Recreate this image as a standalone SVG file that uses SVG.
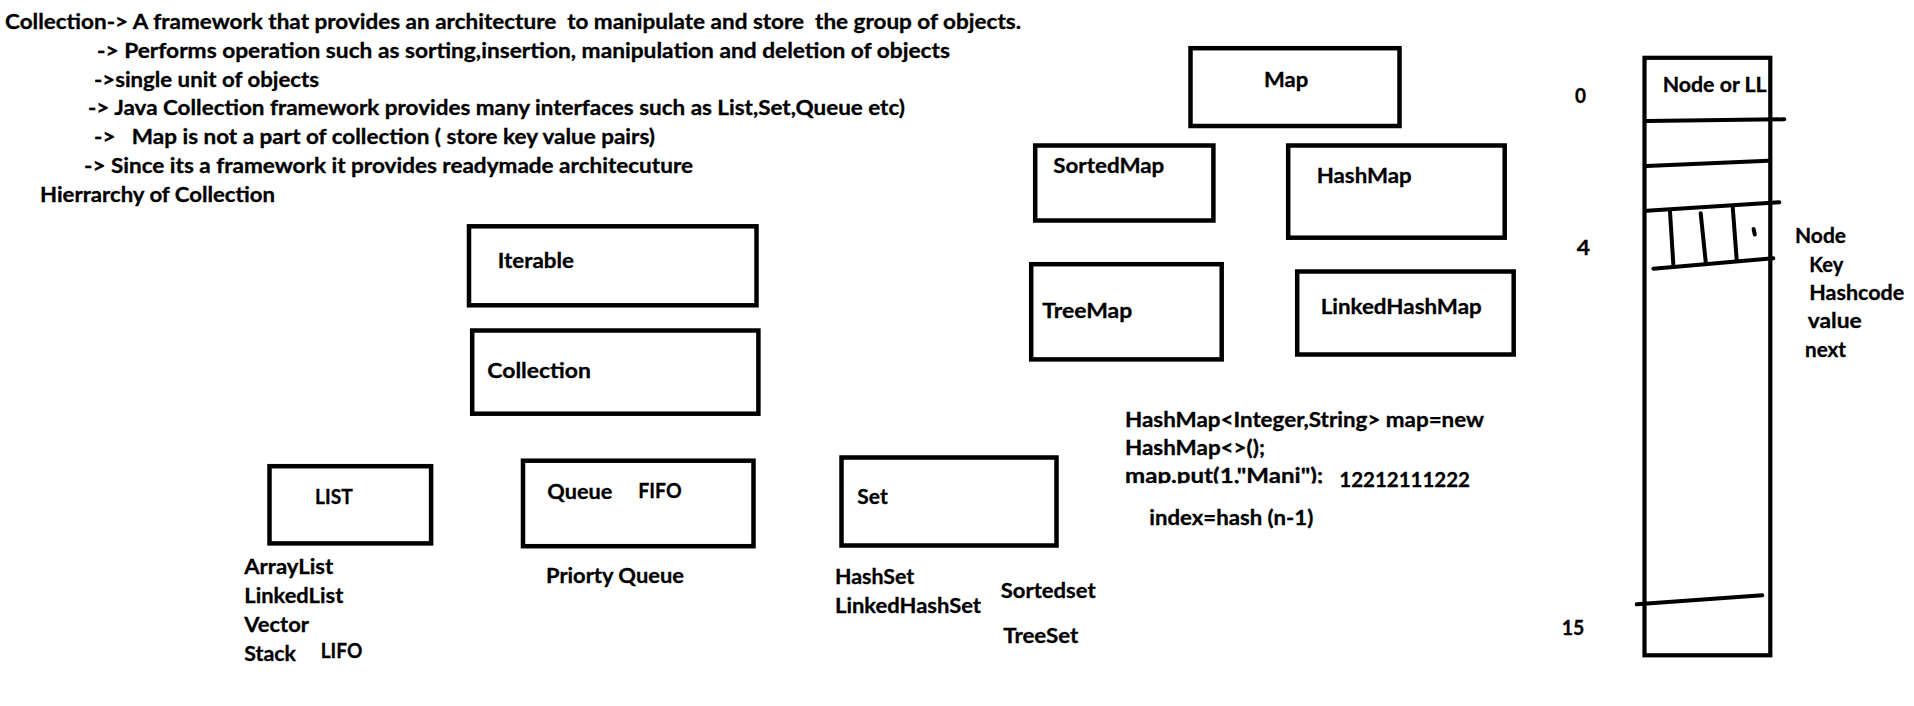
<svg xmlns="http://www.w3.org/2000/svg" width="1914" height="706" viewBox="0 0 1914 706">
<style>
text{font-family:Lato,"Open Sans","Liberation Sans",sans-serif;font-weight:bold;fill:#000;stroke:#000;stroke-width:0.3;white-space:pre}
.h{font-size:20px}
.l{font-size:21px}
.c{font-size:20px}
.box{fill:none;stroke:#000;stroke-width:4.5}
.ln{fill:none;stroke:#000;stroke-width:4;stroke-linecap:round}
</style>
<defs>
<clipPath id="clipPut"><rect x="1115" y="440" width="230" height="43.6"/></clipPath>
</defs>
<rect width="1914" height="706" fill="#fff"/>
<g id="notes" xml:space="preserve">
<text class="h" x="5" y="29" textLength="1016" lengthAdjust="spacingAndGlyphs">Collection-&gt; A framework that provides an architecture  to manipulate and store  the group of objects.</text>
<text class="h" x="97" y="58" textLength="853" lengthAdjust="spacingAndGlyphs">-&gt; Performs operation such as sorting,insertion, manipulation and deletion of objects</text>
<text class="h" x="94" y="87" textLength="225" lengthAdjust="spacingAndGlyphs">-&gt;single unit of objects</text>
<text class="h" x="88" y="115" textLength="817" lengthAdjust="spacingAndGlyphs">-&gt; Java Collection framework provides many interfaces such as List,Set,Queue etc)</text>
<text class="h" x="94" y="144" textLength="561" lengthAdjust="spacingAndGlyphs">-&gt;   Map is not a part of collection ( store key value pairs)</text>
<text class="h" x="84" y="173" textLength="609" lengthAdjust="spacingAndGlyphs">-&gt; Since its a framework it provides readymade architecuture</text>
<text class="h" x="40" y="202" textLength="235" lengthAdjust="spacingAndGlyphs">Hierrarchy of Collection</text>
</g>
<g id="iterable">
<rect class="box" x="469" y="226.3" width="287.5" height="79"/>
<text class="l" x="497.7" y="268.3" textLength="76.3" lengthAdjust="spacingAndGlyphs">Iterable</text>
</g>
<g id="collection">
<rect class="box" x="472.2" y="330.5" width="286.2" height="83.2"/>
<text class="l" x="487.3" y="378.3" textLength="103.7" lengthAdjust="spacingAndGlyphs">Collection</text>
</g>
<g id="list">
<rect class="box" x="269.5" y="466.2" width="161.6" height="77.2"/>
<text class="l" x="315" y="504.3" textLength="37.7" lengthAdjust="spacingAndGlyphs">LIST</text>
<text class="l" x="244.3" y="574" textLength="89" lengthAdjust="spacingAndGlyphs">ArrayList</text>
<text class="l" x="244.3" y="602.7" textLength="99" lengthAdjust="spacingAndGlyphs">LinkedList</text>
<text class="l" x="244.3" y="631.7" textLength="64.7" lengthAdjust="spacingAndGlyphs">Vector</text>
<text class="l" x="244.3" y="660.7" textLength="51.7" lengthAdjust="spacingAndGlyphs">Stack</text>
<text class="l" x="320.7" y="657.7" textLength="41.6" lengthAdjust="spacingAndGlyphs">LIFO</text>
</g>
<g id="queue">
<rect class="box" x="523" y="460.7" width="230.5" height="85.5"/>
<text class="l" x="547.3" y="499.3" textLength="65" lengthAdjust="spacingAndGlyphs">Queue</text>
<text class="l" x="638.3" y="497.7" textLength="43.4" lengthAdjust="spacingAndGlyphs">FIFO</text>
<text class="l" x="546" y="583.3" textLength="138" lengthAdjust="spacingAndGlyphs">Priorty Queue</text>
</g>
<g id="set">
<rect class="box" x="841.5" y="457.5" width="215" height="88"/>
<text class="l" x="857.3" y="504.3" textLength="30.4" lengthAdjust="spacingAndGlyphs">Set</text>
<text class="l" x="835" y="584.3" textLength="79.3" lengthAdjust="spacingAndGlyphs">HashSet</text>
<text class="l" x="835" y="613.3" textLength="146" lengthAdjust="spacingAndGlyphs">LinkedHashSet</text>
<text class="l" x="1000.7" y="598" textLength="95" lengthAdjust="spacingAndGlyphs">Sortedset</text>
<text class="l" x="1003.3" y="643.3" textLength="75" lengthAdjust="spacingAndGlyphs">TreeSet</text>
</g>
<g id="map">
<rect class="box" x="1190.5" y="48.2" width="209" height="77.8"/>
<text class="l" x="1264" y="86.7" textLength="44.3" lengthAdjust="spacingAndGlyphs">Map</text>
</g>
<g id="sortedmap">
<rect class="box" x="1035.2" y="145.5" width="178.2" height="75"/>
<text class="l" x="1053.3" y="173.3" textLength="111" lengthAdjust="spacingAndGlyphs">SortedMap</text>
</g>
<g id="hashmap">
<rect class="box" x="1288.2" y="145.5" width="216.5" height="92.2"/>
<text class="l" x="1316.7" y="182.7" textLength="95" lengthAdjust="spacingAndGlyphs">HashMap</text>
</g>
<g id="treemap">
<rect class="box" x="1031.2" y="264.2" width="190.5" height="95.2"/>
<text class="l" x="1042.3" y="318.3" textLength="90" lengthAdjust="spacingAndGlyphs">TreeMap</text>
</g>
<g id="linkedhashmap">
<rect class="box" x="1297.2" y="271.5" width="216.5" height="83"/>
<text class="l" x="1320.7" y="314" textLength="161" lengthAdjust="spacingAndGlyphs">LinkedHashMap</text>
</g>
<g id="code">
<text class="c" x="1125" y="426.7" textLength="359" lengthAdjust="spacingAndGlyphs">HashMap&lt;Integer,String&gt; map=new</text>
<text class="c" x="1125" y="455" textLength="140" lengthAdjust="spacingAndGlyphs">HashMap&lt;&gt;();</text>
<text class="c" x="1125" y="482.6" textLength="198.3" lengthAdjust="spacingAndGlyphs" clip-path="url(#clipPut)">map.put(1,"Mani");</text>
<text class="c" x="1339.3" y="486.7" textLength="130.7" lengthAdjust="spacingAndGlyphs">12212111222</text>
<text class="c" x="1149.3" y="525" textLength="164" lengthAdjust="spacingAndGlyphs">index=hash (n-1)</text>
</g>
<g id="bucket-array">
<rect class="box" x="1644.5" y="57.8" width="125.8" height="597.5" style="stroke-width:4.2"/>
<line class="ln" x1="1646.7" y1="121" x2="1784.3" y2="119.3"/>
<line class="ln" x1="1646.7" y1="166" x2="1768.3" y2="160.7"/>
<line class="ln" x1="1646.7" y1="210.7" x2="1779.3" y2="202.3"/>
<line class="ln" x1="1653.3" y1="268.7" x2="1773.3" y2="258.3"/>
<line class="ln" x1="1670" y1="211.7" x2="1673.3" y2="264"/>
<line class="ln" x1="1700.7" y1="213.3" x2="1705.7" y2="261.7"/>
<line class="ln" x1="1732.7" y1="206.7" x2="1736.7" y2="260"/>
<line class="ln" x1="1753.6" y1="229" x2="1754.8" y2="234.5"/>
<line class="ln" x1="1636.7" y1="604.3" x2="1762.3" y2="595.3"/>
<text class="c" x="1662.7" y="92.3" textLength="104" lengthAdjust="spacingAndGlyphs">Node or LL</text>
<text class="c" x="1575" y="103.3" textLength="11" lengthAdjust="spacingAndGlyphs">0</text>
<text class="c" x="1576.7" y="255" textLength="13.3" lengthAdjust="spacingAndGlyphs">4</text>
<text class="c" x="1561.7" y="635" textLength="22.6" lengthAdjust="spacingAndGlyphs">15</text>
<text class="c" x="1795" y="242.7" textLength="51" lengthAdjust="spacingAndGlyphs">Node</text>
<text class="c" x="1809.3" y="271.7" textLength="34" lengthAdjust="spacingAndGlyphs">Key</text>
<text class="c" x="1809.3" y="300" textLength="95" lengthAdjust="spacingAndGlyphs">Hashcode</text>
<text class="c" x="1807.7" y="328.3" textLength="54" lengthAdjust="spacingAndGlyphs">value</text>
<text class="c" x="1805" y="356.7" textLength="41" lengthAdjust="spacingAndGlyphs">next</text>
</g>
<g id="connectors"/>
</svg>
